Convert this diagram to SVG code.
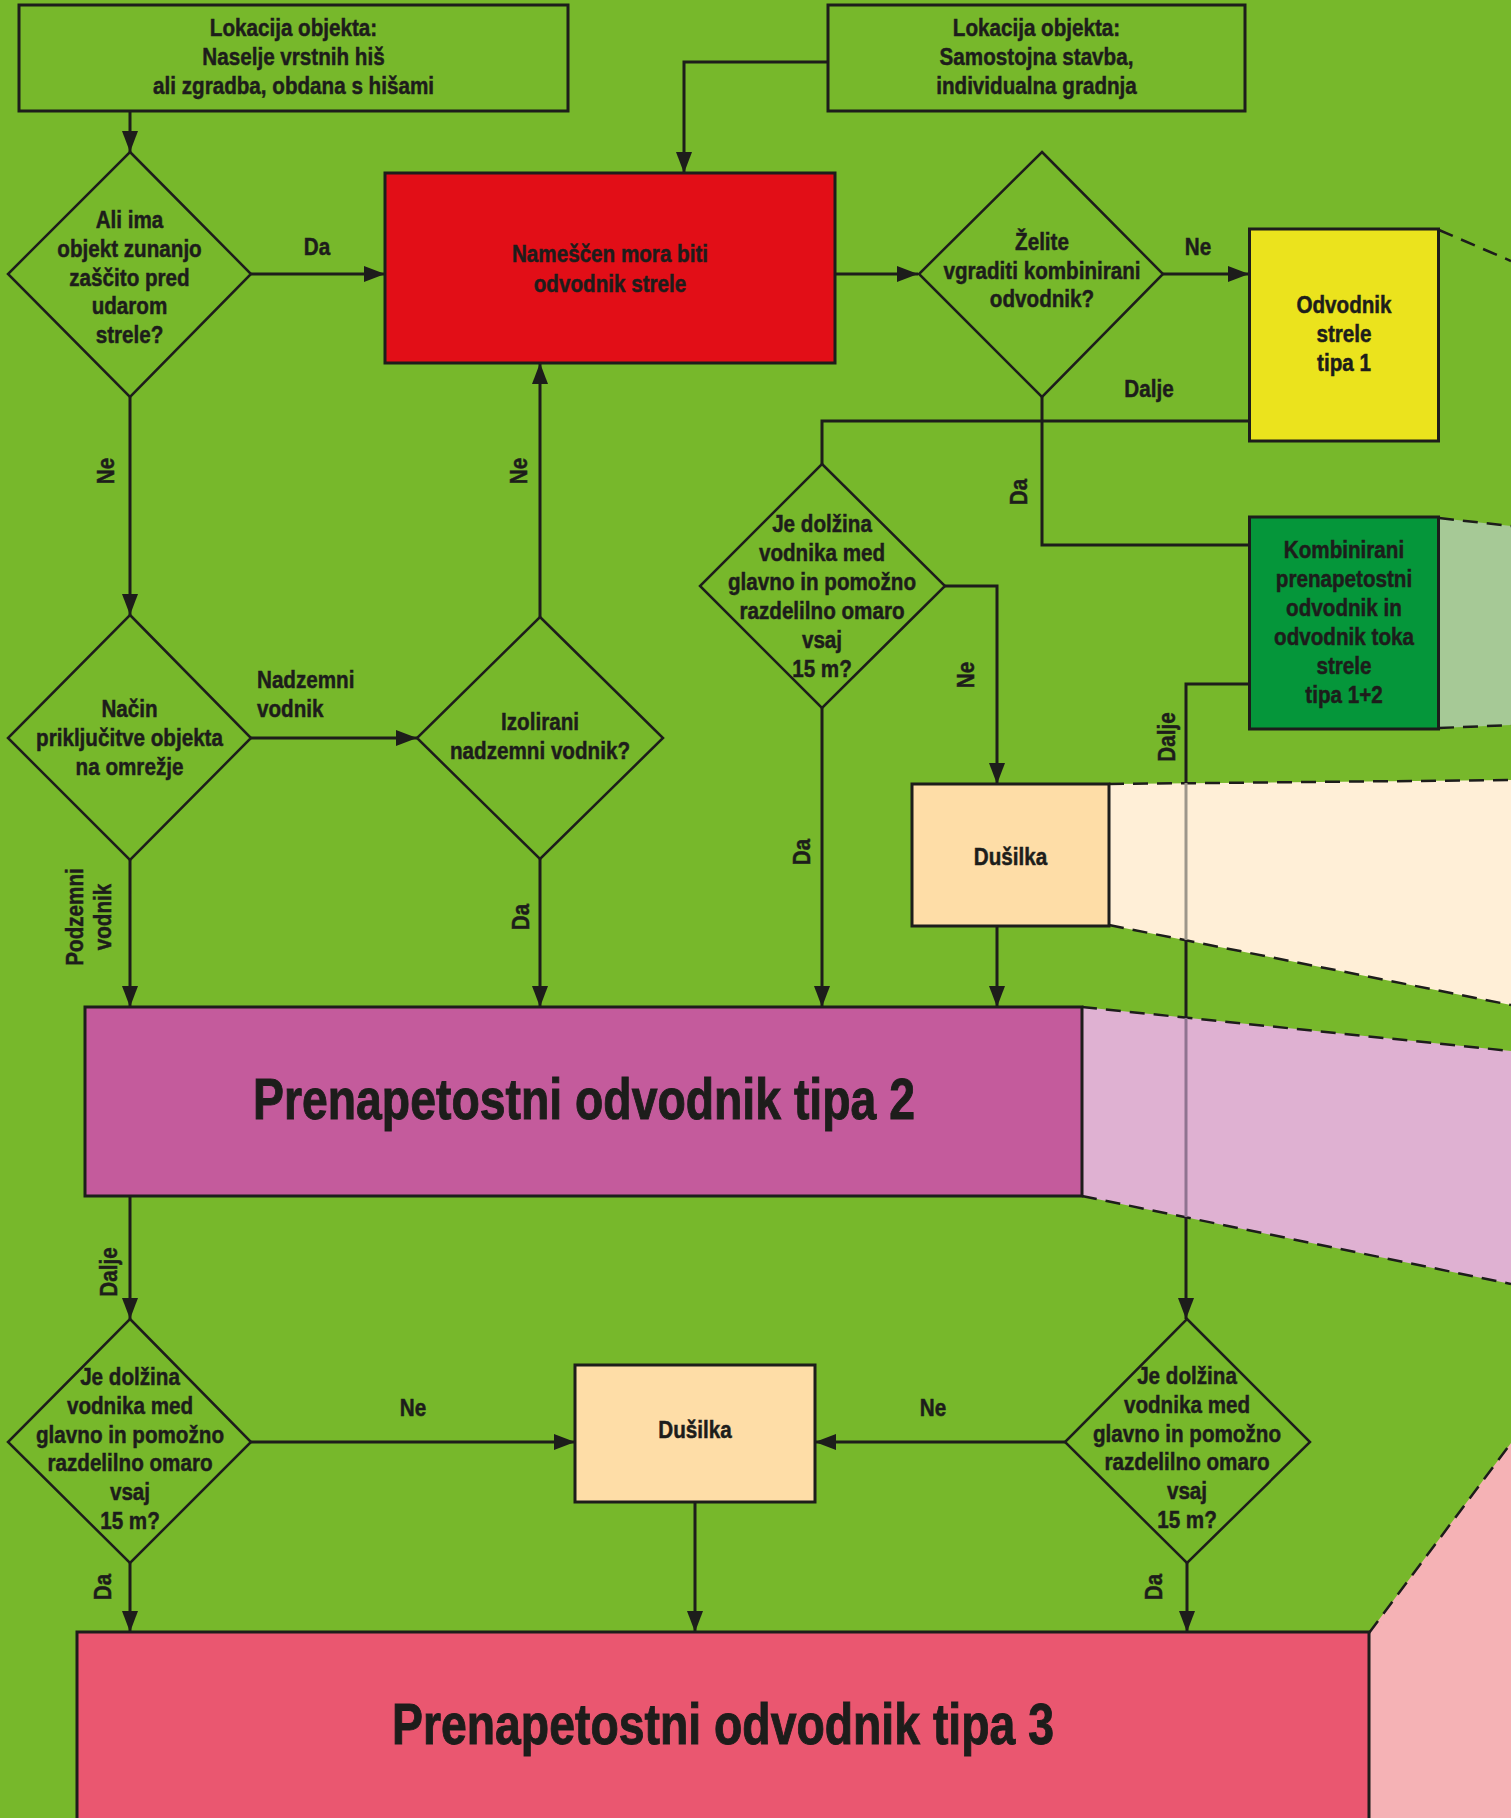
<svg xmlns="http://www.w3.org/2000/svg" width="1511" height="1818" viewBox="0 0 1511 1818">
<defs>
<style>
.t{font-family:"Liberation Sans",Arial,sans-serif;font-weight:bold;font-size:24px;fill:#1d1d1b;stroke:#1d1d1b;stroke-width:0.5;text-anchor:middle}
.big{font-family:"Liberation Sans",Arial,sans-serif;font-weight:bold;font-size:58px;fill:#1d1d1b;stroke:#1d1d1b;stroke-width:1;text-anchor:middle}
.lbl{text-anchor:start}
.box{stroke:#1d1d1b;stroke-width:3}
.dia{fill:none;stroke:#1d1d1b;stroke-width:2.5}
.c{fill:none;stroke:#1d1d1b;stroke-width:3}
.a{marker-end:url(#ah)}
.dash{fill:none;stroke:#1d1d1b;stroke-width:2.5;stroke-dasharray:15 9}
</style>
<marker id="ah" markerUnits="userSpaceOnUse" markerWidth="21" markerHeight="16" refX="21" refY="8" orient="auto">
<path d="M0,0 L21,8 L0,16 z" fill="#1d1d1b"/>
</marker>
</defs>
<rect x="0" y="0" width="1511" height="1818" fill="#77b82b"/>

<g id="shading">
<line class="dash" x1="1439" y1="230" x2="1511" y2="261"/>
<polygon points="1439,518 1511,526 1511,725 1439,728" fill="#a6c996"/>
<line class="dash" x1="1439" y1="518" x2="1511" y2="526"/>
<line class="dash" x1="1439" y1="728" x2="1511" y2="725"/>
<polygon points="1109,784 1511,780 1511,1005 1109,925" fill="#ffefd7"/>
<line class="dash" x1="1109" y1="784" x2="1511" y2="780"/>
<line class="dash" x1="1109" y1="925" x2="1511" y2="1005"/>
<polygon points="1082,1007 1511,1051 1511,1284 1082,1196" fill="#dfb1d2"/>
<line class="dash" x1="1082" y1="1007" x2="1511" y2="1051"/>
<line class="dash" x1="1082" y1="1196" x2="1511" y2="1284"/>
<polygon points="1369,1633 1511,1443 1511,1818 1369,1818" fill="#f5b2b5"/>
<line class="dash" x1="1369" y1="1633" x2="1511" y2="1443"/>
</g>

<g id="connectors">
<path class="c a" d="M130,111 V152"/>
<path class="c a" d="M251,274 H385"/>
<path class="c a" d="M828,62 H684 V173"/>
<path class="c a" d="M835,274 H918"/>
<path class="c a" d="M1163,274 H1249"/>
<path class="c" d="M1042,397 V545 H1250"/>
<path class="c" d="M1249,421 H822 V464"/>
<path class="c a" d="M130,397 V615"/>
<path class="c a" d="M251,738 H417"/>
<path class="c a" d="M540,617 V363"/>
<path class="c a" d="M130,860 V1007"/>
<path class="c a" d="M540,859 V1007"/>
<path class="c a" d="M822,708 V1007"/>
<path class="c a" d="M945,586 H997 V784"/>
<path class="c a" d="M997,926 V1007"/>
<g id="c-green-d5">
<path class="c" d="M1250,684 H1186 V783"/>
<path class="c" style="stroke:#9d968a" d="M1186,783 V940"/>
<path class="c" d="M1186,940 V1018"/>
<path class="c" style="stroke:#8f7390" d="M1186,1018 V1217"/>
<path class="c a" d="M1186,1217 V1319"/>
</g>
<path class="c a" d="M130,1196 V1319"/>
<path class="c a" d="M251,1442 H575"/>
<path class="c a" d="M1065,1442 H815"/>
<path class="c a" d="M695,1502 V1632"/>
<path class="c a" d="M130,1563 V1632"/>
<path class="c a" d="M1187,1563 V1632"/>
</g>

<g id="edge-labels">
<text class="t" transform="translate(317 255) scale(0.86 1)">Da</text>
<text class="t" transform="translate(1198 255) scale(0.86 1)">Ne</text>
<text class="t" transform="translate(1149 397) scale(0.86 1)">Dalje</text>
<text class="t lbl" transform="translate(257 688) scale(0.86 1)"><tspan x="0" y="0">Nadzemni</tspan><tspan x="0" y="29">vodnik</tspan></text>
<text class="t" transform="translate(413 1416) scale(0.86 1)">Ne</text>
<text class="t" transform="translate(933 1416) scale(0.86 1)">Ne</text>
<text class="t" transform="translate(114 471) rotate(-90) scale(0.86 1)">Ne</text>
<text class="t" transform="translate(527 471) rotate(-90) scale(0.86 1)">Ne</text>
<text class="t" transform="translate(83 917) rotate(-90) scale(0.86 1)">Podzemni</text>
<text class="t" transform="translate(111 917) rotate(-90) scale(0.86 1)">vodnik</text>
<text class="t" transform="translate(529 917) rotate(-90) scale(0.86 1)">Da</text>
<text class="t" transform="translate(1027 492) rotate(-90) scale(0.86 1)">Da</text>
<text class="t" transform="translate(974 675) rotate(-90) scale(0.86 1)">Ne</text>
<text class="t" transform="translate(1175 737) rotate(-90) scale(0.86 1)">Dalje</text>
<text class="t" transform="translate(810 852) rotate(-90) scale(0.86 1)">Da</text>
<text class="t" transform="translate(117 1272) rotate(-90) scale(0.86 1)">Dalje</text>
<text class="t" transform="translate(111 1587) rotate(-90) scale(0.86 1)">Da</text>
<text class="t" transform="translate(1162 1587) rotate(-90) scale(0.86 1)">Da</text>
</g>

<g id="n-loc1">
<rect class="box" x="19" y="5" width="549" height="106" fill="none"/>
<g transform="translate(293.5 0) scale(0.86 1)">
<text class="t" x="0" y="36">Lokacija objekta:</text>
<text class="t" x="0" y="65">Naselje vrstnih hiš</text>
<text class="t" x="0" y="94">ali zgradba, obdana s hišami</text>
</g>
</g>

<g id="n-loc2">
<rect class="box" x="828" y="5" width="417" height="106" fill="none"/>
<g transform="translate(1036.5 0) scale(0.86 1)">
<text class="t" x="0" y="36">Lokacija objekta:</text>
<text class="t" x="0" y="65">Samostojna stavba,</text>
<text class="t" x="0" y="94">individualna gradnja</text>
</g>
</g>

<g id="n-d1">
<polygon class="dia" points="130,152 251,274 130,397 8,274"/>
<g transform="translate(129.5 0) scale(0.86 1)">
<text class="t" x="0" y="228">Ali ima</text>
<text class="t" x="0" y="257">objekt zunanjo</text>
<text class="t" x="0" y="286">zaščito pred</text>
<text class="t" x="0" y="314">udarom</text>
<text class="t" x="0" y="343">strele?</text>
</g>
</g>

<g id="n-red">
<rect class="box" x="385" y="173" width="450" height="190" fill="#e20e17"/>
<g transform="translate(610 0) scale(0.86 1)">
<text class="t" x="0" y="262">Nameščen mora biti</text>
<text class="t" x="0" y="292">odvodnik strele</text>
</g>
</g>

<g id="n-d2">
<polygon class="dia" points="1042,152 1163,274 1042,397 919,274"/>
<g transform="translate(1042 0) scale(0.86 1)">
<text class="t" x="0" y="250">Želite</text>
<text class="t" x="0" y="279">vgraditi kombinirani</text>
<text class="t" x="0" y="307">odvodnik?</text>
</g>
</g>

<g id="n-yellow">
<rect class="box" x="1249.5" y="229" width="189" height="212" fill="#ebe31d"/>
<g transform="translate(1344 0) scale(0.86 1)">
<text class="t" x="0" y="313">Odvodnik</text>
<text class="t" x="0" y="342">strele</text>
<text class="t" x="0" y="371">tipa 1</text>
</g>
</g>

<g id="n-d3">
<polygon class="dia" points="822,464 945,586 822,708 700,586"/>
<g transform="translate(822 0) scale(0.86 1)">
<text class="t" x="0" y="532">Je dolžina</text>
<text class="t" x="0" y="561">vodnika med</text>
<text class="t" x="0" y="590">glavno in pomožno</text>
<text class="t" x="0" y="619">razdelilno omaro</text>
<text class="t" x="0" y="648">vsaj</text>
<text class="t" x="0" y="677">15 m?</text>
</g>
</g>

<g id="n-green">
<rect class="box" x="1249.5" y="517" width="189" height="212" fill="#05963a"/>
<g transform="translate(1344 0) scale(0.86 1)">
<text class="t" x="0" y="558">Kombinirani</text>
<text class="t" x="0" y="587">prenapetostni</text>
<text class="t" x="0" y="616">odvodnik in</text>
<text class="t" x="0" y="645">odvodnik toka</text>
<text class="t" x="0" y="674">strele</text>
<text class="t" x="0" y="703">tipa 1+2</text>
</g>
</g>

<g id="n-d6">
<polygon class="dia" points="130,615 251,738 130,860 8,738"/>
<g transform="translate(129.5 0) scale(0.86 1)">
<text class="t" x="0" y="717">Način</text>
<text class="t" x="0" y="746">priključitve objekta</text>
<text class="t" x="0" y="775">na omrežje</text>
</g>
</g>

<g id="n-d7">
<polygon class="dia" points="540,617 663,738 540,859 417,738"/>
<g transform="translate(540 0) scale(0.86 1)">
<text class="t" x="0" y="730">Izolirani</text>
<text class="t" x="0" y="759">nadzemni vodnik?</text>
</g>
</g>

<g id="n-dusilka1">
<rect class="box" x="912" y="784" width="197" height="142" fill="#fedda7"/>
<text class="t" transform="translate(1010.5 865) scale(0.86 1)">Dušilka</text>
</g>

<g id="n-tipa2">
<rect class="box" x="85" y="1007" width="997" height="189" fill="#c45b9c"/>
<text class="big" x="584" y="1119" textLength="662" lengthAdjust="spacingAndGlyphs">Prenapetostni odvodnik tipa 2</text>
</g>

<g id="n-d4">
<polygon class="dia" points="130,1319 251,1442 130,1563 8,1442"/>
<g transform="translate(130 0) scale(0.86 1)">
<text class="t" x="0" y="1385">Je dolžina</text>
<text class="t" x="0" y="1414">vodnika med</text>
<text class="t" x="0" y="1443">glavno in pomožno</text>
<text class="t" x="0" y="1471">razdelilno omaro</text>
<text class="t" x="0" y="1500">vsaj</text>
<text class="t" x="0" y="1529">15 m?</text>
</g>
</g>

<g id="n-dusilka2">
<rect class="box" x="575" y="1365" width="240" height="137" fill="#fedda7"/>
<text class="t" transform="translate(695 1438) scale(0.86 1)">Dušilka</text>
</g>

<g id="n-d5">
<polygon class="dia" points="1187,1319 1310,1442 1187,1563 1065,1442"/>
<g transform="translate(1187 0) scale(0.86 1)">
<text class="t" x="0" y="1384">Je dolžina</text>
<text class="t" x="0" y="1413">vodnika med</text>
<text class="t" x="0" y="1442">glavno in pomožno</text>
<text class="t" x="0" y="1470">razdelilno omaro</text>
<text class="t" x="0" y="1499">vsaj</text>
<text class="t" x="0" y="1528">15 m?</text>
</g>
</g>

<g id="n-tipa3">
<rect class="box" x="77" y="1632" width="1292" height="200" fill="#ea5770"/>
<text class="big" x="723" y="1744" textLength="662" lengthAdjust="spacingAndGlyphs">Prenapetostni odvodnik tipa 3</text>
</g>
</svg>
